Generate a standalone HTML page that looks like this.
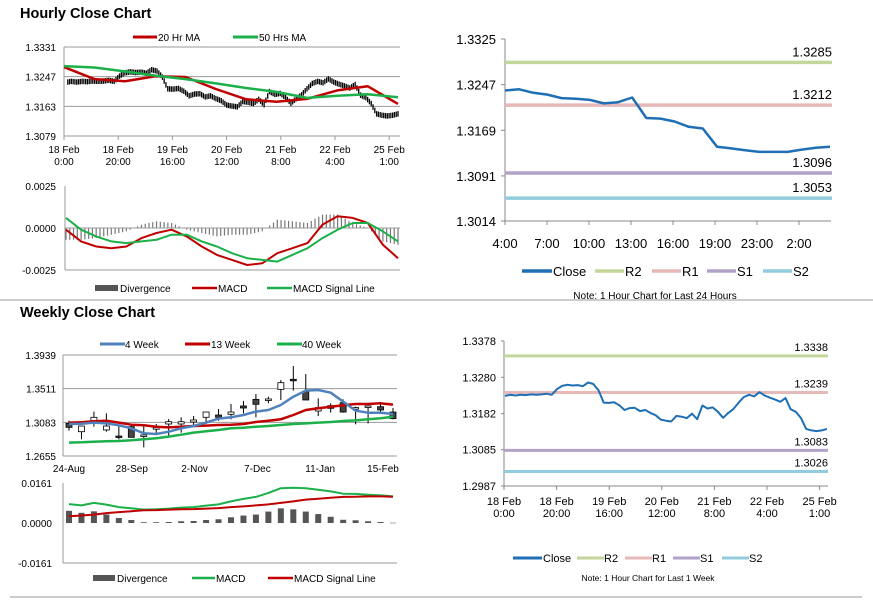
<!DOCTYPE html>
<html><head><meta charset="utf-8"><style>
body{margin:0;background:#fff}
svg{display:block;font-family:"Liberation Sans",Arial,sans-serif}
</style></head><body>
<svg id="c" width="873" height="601" xmlns="http://www.w3.org/2000/svg">
<rect width="873" height="601" fill="#fff"/>
<line x1="0" y1="300" x2="873" y2="300" stroke="#999"/>
<line x1="10" y1="597" x2="862" y2="597" stroke="#999"/>
<text x="20" y="18" font-size="14.5" font-weight="bold">Hourly Close Chart</text>
<text x="20" y="317" font-size="14.5" font-weight="bold">Weekly Close Chart</text>
</svg>
<script>
// ---------- DATA ----------
const weekHourlyClose=[1.3230,1.3233,1.3231,1.3233,1.3232,1.3234,1.3233,1.3234,1.3236,1.3233,1.3248,1.3257,1.3260,1.3258,1.3259,1.3256,1.3266,1.3262,1.3245,1.3212,1.3211,1.3213,1.3205,1.3192,1.3197,1.3198,1.3189,1.3192,1.3184,1.3178,1.3166,1.3163,1.3161,1.3176,1.3174,1.3170,1.3182,1.3167,1.3204,1.3196,1.3199,1.3187,1.3171,1.3184,1.3195,1.3212,1.3227,1.3233,1.3229,1.3240,1.3231,1.3225,1.3220,1.3214,1.3224,1.3194,1.3187,1.3170,1.3141,1.3137,1.3135,1.3137,1.3141];
const hourTickLabels=[["18 Feb","0:00"],["18 Feb","20:00"],["19 Feb","16:00"],["20 Feb","12:00"],["21 Feb","8:00"],["22 Feb","4:00"],["25 Feb","1:00"]];
const ma20=[1.3274,1.3240,1.3234,1.3248,1.3246,1.3212,1.3183,1.3176,1.3184,1.3208,1.3220,1.3170];
const ma50=[1.3277,1.3273,1.3262,1.3250,1.3240,1.3228,1.3215,1.3204,1.3187,1.3193,1.3197,1.3189];
const hMacd=[-0.0001,-0.0008,-0.0011,-0.0012,-0.0011,-0.0006,-0.0003,-0.0001,-0.0005,-0.0011,-0.0016,-0.0019,-0.0022,-0.0021,-0.0015,-0.0012,-0.0009,0.0002,0.0007,0.0006,0.0003,-0.0010,-0.0018];
const hSignal=[0.0006,-0.0001,-0.0005,-0.0008,-0.0009,-0.0008,-0.0007,-0.0004,-0.0004,-0.0008,-0.0011,-0.0015,-0.0018,-0.0019,-0.0020,-0.0016,-0.0012,-0.0006,-0.0001,0.0003,0.0003,-0.0002,-0.0008];
const dayClose=[1.3237,1.3239,1.3233,1.3230,1.3224,1.3223,1.3221,1.3215,1.3217,1.3225,1.3190,1.3189,1.3184,1.3175,1.3172,1.3141,1.3138,1.3135,1.3132,1.3132,1.3132,1.3136,1.3139,1.3141];
const dayTickLabels=["4:00","7:00","10:00","13:00","16:00","19:00","23:00","2:00"];
const dayLevels=[1.3285,1.3212,1.3096,1.3053];
const weekLevels=[1.3338,1.3239,1.3083,1.3026];
const levelNames=["R2","R1","S1","S2"];
const wkOpen =[1.3070,1.2964,1.3104,1.2986,1.2909,1.3028,1.2909,1.3007,1.3062,1.3062,1.3087,1.3147,1.3176,1.3185,1.3291,1.3375,1.3367,1.3502,1.3630,1.3473,1.3227,1.3295,1.3333,1.3270,1.3282,1.3282,1.3214];
const wkClose=[1.3019,1.3036,1.3147,1.3036,1.2892,1.2892,1.2922,1.3015,1.3091,1.3091,1.3113,1.3214,1.3147,1.3214,1.3265,1.3312,1.3380,1.3587,1.3621,1.3367,1.3270,1.3261,1.3214,1.3270,1.3291,1.3240,1.3130];
const wkHigh =[1.3104,1.3036,1.3219,1.3197,1.3049,1.3062,1.3062,1.3062,1.3125,1.3147,1.3164,1.3219,1.3253,1.3316,1.3354,1.3443,1.3409,1.3621,1.3799,1.3697,1.3388,1.3325,1.3375,1.3282,1.3295,1.3316,1.3265];
const wkLow  =[1.2977,1.2867,1.3028,1.2964,1.2867,1.2892,1.2765,1.2922,1.2909,1.2952,1.3028,1.3062,1.3104,1.3121,1.3197,1.3147,1.3325,1.3367,1.3486,1.3367,1.3164,1.3206,1.3206,1.3058,1.3070,1.3197,1.3121];
const wk4=[1.3062,1.3066,1.3079,1.3070,1.3045,1.3007,1.2943,1.2935,1.2964,1.3007,1.3036,1.3079,1.3130,1.3147,1.3176,1.3219,1.3240,1.3303,1.3409,1.3486,1.3494,1.3460,1.3346,1.3231,1.3206,1.3206,1.3189];
const wk13=[1.3079,1.3083,1.3096,1.3104,1.3079,1.3053,1.3045,1.3028,1.3019,1.3028,1.3036,1.3041,1.3049,1.3053,1.3062,1.3087,1.3104,1.3121,1.3176,1.3240,1.3261,1.3282,1.3299,1.3316,1.3316,1.3325,1.3308];
const wk40=[1.2825,1.2829,1.2837,1.2842,1.2846,1.2854,1.2867,1.2880,1.2901,1.2926,1.2952,1.2969,1.2986,1.3007,1.3015,1.3028,1.3036,1.3049,1.3062,1.3070,1.3079,1.3087,1.3100,1.3108,1.3121,1.3134,1.3155];
const wkTickLabels=["24-Aug","28-Sep","2-Nov","7-Dec","11-Jan","15-Feb"];
const wMacd=[0.0076,0.0071,0.0081,0.0074,0.0064,0.0059,0.0054,0.0055,0.0058,0.0062,0.0064,0.0070,0.0075,0.0087,0.0097,0.0105,0.0121,0.0140,0.0142,0.0140,0.0134,0.0127,0.0118,0.0117,0.0114,0.0111,0.0107];
const wSignal=[0.0027,0.0030,0.0034,0.0040,0.0044,0.0047,0.0051,0.0052,0.0054,0.0055,0.0056,0.0058,0.0060,0.0064,0.0067,0.0071,0.0075,0.0081,0.0087,0.0094,0.0098,0.0102,0.0105,0.0106,0.0107,0.0107,0.0106];

// ---------- HELPERS ----------
const svg=document.getElementById('c');const NS='http://www.w3.org/2000/svg';
function mk(tag,attrs,parent){const e=document.createElementNS(NS,tag);for(const k in attrs)e.setAttribute(k,attrs[k]);(parent||svg).appendChild(e);return e;}
function txt(x,y,s,size,anchor,fill){const t=mk('text',{x:x,y:y,'font-size':size,'text-anchor':anchor||'start',fill:fill||'#000'});t.textContent=s;return t;}
function lin(d0,d1,r0,r1){return v=>r0+(v-d0)/(d1-d0)*(r1-r0);}
function poly(xs,ys,color,w){const p=xs.map((x,i)=>x.toFixed(1)+','+ys[i].toFixed(1)).join(' ');return mk('polyline',{points:p,fill:'none',stroke:color,'stroke-width':w,'stroke-linejoin':'round'});}
const RED='#c00000',GREEN='#1bb04a',BLUE='#4f81bd',DARKBLUE='#1f6fb5';
const LVLC=['#c3d69b','#e6b9b8','#b3a2c7','#93cddd'];

// ===== Panel 1: hourly bars =====
{const x=lin(0,weekHourlyClose.length-1,66,398),y=lin(1.3079,1.3331,136,47);
[1.3331,1.3247,1.3163,1.3079].forEach((v,i)=>{const g=mk('line',{x1:64,x2:400,y1:y(v),y2:y(v),stroke:'#999'});

const t=txt(56,y(v)+4,v.toFixed(4),10,'end');});
mk('line',{x1:64,x2:64,y1:47,y2:136,stroke:'#999'});
hourTickLabels.forEach((l,i)=>{const xx=64+i*54.2;mk('line',{x1:xx,x2:xx,y1:136,y2:140,stroke:'#999'});
const t=txt(xx,153,l[0],10,'middle');txt(xx,165,l[1],10,'middle');});
weekHourlyClose.forEach((v,i)=>{if(!i)return;const p=weekHourlyClose[i-1];
for(let s=0;s<3;s++){const xx=x(i-1)+(x(i)-x(i-1))*(s+1)/3;const vv=p+(v-p)*(s+1)/3;
const b=mk('line',{x1:xx,x2:xx,y1:y(vv)-3,y2:y(vv)+2.5,stroke:'#000','stroke-width':1.3});
}});
const mx=lin(0,ma20.length-1,64,398);
const l1=poly(ma20.map((_,i)=>mx(i)),ma20.map(y),RED,2.5);
const l2=poly(ma50.map((_,i)=>mx(i)),ma50.map(y),GREEN,2.5);
mk('line',{x1:133,x2:157,y1:37,y2:37,stroke:RED,'stroke-width':3});txt(158,41,'20 Hr MA',10);
mk('line',{x1:233,x2:258,y1:37,y2:37,stroke:GREEN,'stroke-width':3});txt(259,41,'50 Hrs MA',10);}

// ===== Panel 1b: hourly MACD =====
{const x=lin(0,hMacd.length-1,66,398),y=lin(-0.0025,0.0025,270,186);
[0.0025,0,-0.0025].forEach(v=>{const t=txt(56,y(v)+4,v.toFixed(4),10,'end');});
mk('line',{x1:65,x2:65,y1:186,y2:270,stroke:'#999'});mk('line',{x1:65,x2:400,y1:270,y2:270,stroke:'#999'});
const n=(hMacd.length-1)*4;
for(let k=0;k<=n;k++){const i=Math.floor(k/4),f=(k%4)/4,j=Math.min(i+1,hMacd.length-1);
const d=(hMacd[i]+(hMacd[j]-hMacd[i])*f)-(hSignal[i]+(hSignal[j]-hSignal[i])*f);const xx=x(i+f);
const b=mk('line',{x1:xx,x2:xx,y1:y(0),y2:y(d),stroke:'#777','stroke-width':1.2});}
mk('line',{x1:65,x2:400,y1:y(0),y2:y(0),stroke:'#999'});
const a=poly(hMacd.map((_,i)=>x(i)),hMacd.map(y),RED,2);
const b=poly(hSignal.map((_,i)=>x(i)),hSignal.map(y),GREEN,2);
mk('rect',{x:95,y:285,width:23,height:6,fill:'#555'});txt(120,292,'Divergence',10);
mk('line',{x1:192,x2:217,y1:288,y2:288,stroke:RED,'stroke-width':2.5});txt(218,292,'MACD',10);
mk('line',{x1:267,x2:292,y1:288,y2:288,stroke:GREEN,'stroke-width':2.5});txt(293,292,'MACD Signal Line',10);}

// ===== Panel 2: last 24h =====
{const x=lin(0,dayClose.length-1,505,830),y=lin(1.3014,1.3325,221,39);
[1.3325,1.3247,1.3169,1.3091,1.3014].forEach(v=>{const t=txt(496,y(v)+5,v.toFixed(4),13,'end');
mk('line',{x1:501,x2:505,y1:y(v),y2:y(v),stroke:'#888'});});
mk('line',{x1:505,x2:505,y1:39,y2:221,stroke:'#888'});mk('line',{x1:505,x2:831,y1:221,y2:221,stroke:'#888'});
dayTickLabels.forEach((l,i)=>{const xx=505+i*42;mk('line',{x1:xx,x2:xx,y1:221,y2:225,stroke:'#888'});const t=txt(xx,248,l,13,'middle');});
dayLevels.forEach((v,i)=>{const l=mk('line',{x1:505,x2:832,y1:y(v),y2:y(v),stroke:LVLC[i],'stroke-width':3.5});
txt(832,y(v)-6,v.toFixed(4),13,'end');});
const c=poly(dayClose.map((_,i)=>x(i)),dayClose.map(y),DARKBLUE,2.5);
mk('line',{x1:522,x2:552,y1:271,y2:271,stroke:DARKBLUE,'stroke-width':3.5});txt(553,276,'Close',13);
[595,652,707,763].forEach((lx,i)=>{mk('line',{x1:lx,x2:lx+29,y1:271,y2:271,stroke:LVLC[i],'stroke-width':3.5});txt(lx+30,276,levelNames[i],13);});
const nt=txt(655,299,'Note: 1 Hour Chart for Last 24 Hours',10,'middle');}

// ===== Panel 3: weekly candles =====
{const x=lin(0,wkOpen.length-1,69,393),y=lin(1.2655,1.3939,456,355);
[1.3939,1.3511,1.3083,1.2655].forEach(v=>{mk('line',{x1:63,x2:397,y1:y(v),y2:y(v),stroke:'#999'});
const t=txt(56,y(v)+4,v.toFixed(4),10,'end');});
mk('line',{x1:63,x2:63,y1:355,y2:456,stroke:'#999'});
wkTickLabels.forEach((l,i)=>{const t=txt(69+i*62.8,472,l,10,'middle');});
wkOpen.forEach((o,i)=>{const c=wkClose[i];mk('line',{x1:x(i),x2:x(i),y1:y(wkHigh[i]),y2:y(wkLow[i]),stroke:'#000','stroke-width':1});
const top=y(Math.max(o,c)),h=Math.max(1.5,Math.abs(y(o)-y(c)));
const r=mk('rect',{x:x(i)-3,y:top,width:6,height:h,fill:c>=o?'#fff':'#444',stroke:'#000','stroke-width':0.8});
});
const px=wk4.map((_,i)=>x(i));
const a=poly(px,wk40.map(y),GREEN,2.5);
const b=poly(px,wk13.map(y),RED,2.5);
const c=poly(px,wk4.map(y),BLUE,2.5);
mk('line',{x1:100,x2:125,y1:344,y2:344,stroke:BLUE,'stroke-width':3});txt(125,348,'4 Week',10);
mk('line',{x1:185,x2:210,y1:344,y2:344,stroke:RED,'stroke-width':3});txt(211,348,'13 Week',10);
mk('line',{x1:277,x2:302,y1:344,y2:344,stroke:GREEN,'stroke-width':3});txt(302,348,'40 Week',10);}

// ===== Panel 3b: weekly MACD =====
{const x=lin(0,wMacd.length-1,69,393),y=lin(-0.0161,0.0161,563,483);
[0.0161,0,-0.0161].forEach(v=>{const t=txt(52,y(v)+4,v.toFixed(4),10,'end');});
mk('line',{x1:63,x2:63,y1:483,y2:563,stroke:'#999'});mk('line',{x1:63,x2:397,y1:563,y2:563,stroke:'#999'});
wMacd.forEach((m,i)=>{const d=m-wSignal[i];const r=mk('rect',{x:x(i)-3,y:Math.min(y(0),y(d)),width:6,height:Math.max(0.5,Math.abs(y(d)-y(0))),fill:'#555'});
});
const a=poly(wMacd.map((_,i)=>x(i)),wMacd.map(y),GREEN,2);
const b=poly(wSignal.map((_,i)=>x(i)),wSignal.map(y),RED,2);
mk('rect',{x:93,y:575,width:22,height:6,fill:'#555'});txt(117,582,'Divergence',10);
mk('line',{x1:192,x2:215,y1:578,y2:578,stroke:GREEN,'stroke-width':2.5});txt(216,582,'MACD',10);
mk('line',{x1:268,x2:293,y1:578,y2:578,stroke:RED,'stroke-width':2.5});txt(294,582,'MACD Signal Line',10);}

// ===== Panel 4: last week hourly =====
{const x=lin(0,weekHourlyClose.length-1,505,827),y=lin(1.2987,1.3378,486,341);
[1.3378,1.3280,1.3182,1.3085,1.2987].forEach(v=>{const t=txt(496,y(v)+4,v.toFixed(4),11,'end');
mk('line',{x1:501,x2:504,y1:y(v),y2:y(v),stroke:'#888'});});
mk('line',{x1:504,x2:504,y1:341,y2:486,stroke:'#888'});mk('line',{x1:504,x2:828,y1:486,y2:486,stroke:'#888'});
hourTickLabels.forEach((l,i)=>{const xx=504+i*52.6;mk('line',{x1:xx,x2:xx,y1:486,y2:490,stroke:'#888'});
const t=txt(xx,505,l[0],11,'middle');txt(xx,517,l[1],11,'middle');});
weekLevels.forEach((v,i)=>{const l=mk('line',{x1:504,x2:828,y1:y(v),y2:y(v),stroke:LVLC[i],'stroke-width':3});
txt(828,y(v)-5,v.toFixed(4),11,'end');});
const c=poly(weekHourlyClose.map((_,i)=>x(i)),weekHourlyClose.map(y),DARKBLUE,2);
mk('line',{x1:513,x2:542,y1:558,y2:558,stroke:DARKBLUE,'stroke-width':3});txt(543,562,'Close',11);
[577,625,673,722].forEach((lx,i)=>{mk('line',{x1:lx,x2:lx+27,y1:558,y2:558,stroke:LVLC[i],'stroke-width':3});txt(lx+27,562,levelNames[i],11);});
const nt=txt(648,581,'Note: 1 Hour Chart for  Last 1 Week',8.5,'middle');}
</script>
</body></html>
